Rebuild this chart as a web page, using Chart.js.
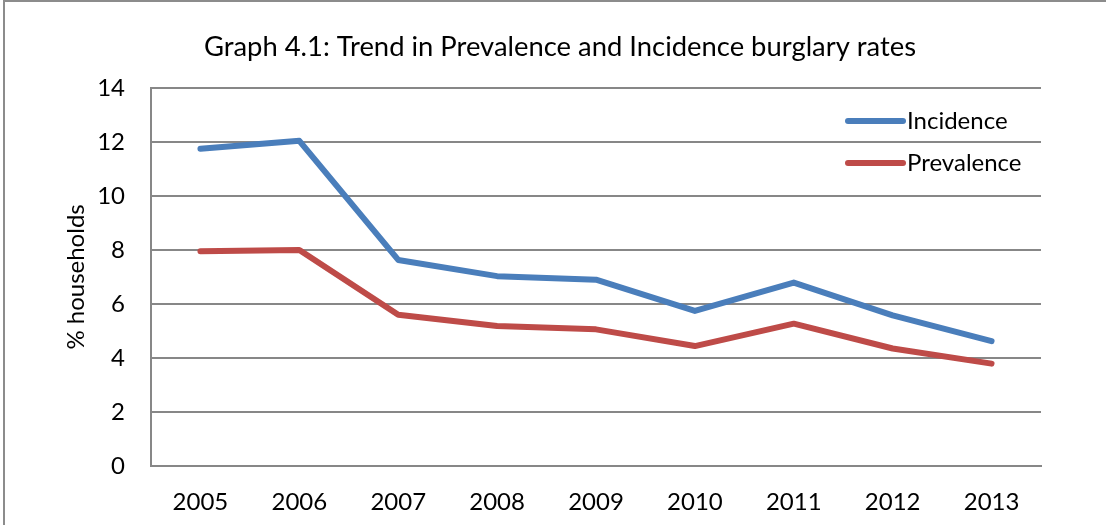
<!DOCTYPE html>
<html>
<head>
<meta charset="utf-8">
<script src="https://cdn.jsdelivr.net/npm/chart.js@4/dist/chart.umd.min.js"></script>
<style>
  body { margin: 0; background: #fff; }
  #wrap { position: relative; width: 1106px; height: 525px; }
  #frame { position: absolute; left: 3px; top: 0; width: 1103px; height: 525px;
           border-left: 2px solid #8c8c8c; border-top: 2px solid #8c8c8c; box-sizing: border-box; pointer-events: none; }
</style>
</head>
<body>
<div id="wrap">
  <canvas id="burglaryChart" width="1106" height="525"></canvas>
  <div id="frame"></div>
</div>
<script>
const years = ['2005', '2006', '2007', '2008', '2009', '2010', '2011', '2012', '2013'];
const incidence = [11.75, 12.04, 7.63, 7.03, 6.9, 5.74, 6.79, 5.58, 4.62];
const prevalence = [7.95, 8.0, 5.6, 5.18, 5.06, 4.44, 5.27, 4.35, 3.79];
const yTicks = [0, 2, 4, 6, 8, 10, 12, 14];

const FONT = 'Lato, "Open Sans", sans-serif';
const GRID = '#878787';

// legend in the top-right of the plot, line sample then label
const sideLegend = {
  id: 'sideLegend',
  afterDatasetsDraw(chart) {
    const c = chart.ctx;
    const area = chart.chartArea;
    c.save();
    c.font = '24px ' + FONT;
    c.textBaseline = 'middle';
    chart.data.datasets.forEach((ds, i) => {
      const y = area.top + 33 + i * 42;
      const x0 = area.right - 193;
      c.strokeStyle = ds.borderColor;
      c.lineWidth = 6;
      c.lineCap = 'round';
      c.beginPath();
      c.moveTo(x0, y);
      c.lineTo(x0 + 55, y);
      c.stroke();
      c.fillStyle = '#000';
      c.fillText(ds.label, x0 + 59, y);
    });
    c.restore();
  }
};

new Chart(document.getElementById('burglaryChart'), {
  type: 'line',
  data: {
    labels: years,
    datasets: [
      { label: 'Incidence', data: incidence, borderColor: '#4a7ebb' },
      { label: 'Prevalence', data: prevalence, borderColor: '#be4b48' }
    ]
  },
  options: {
    responsive: false,
    animation: false,
    layout: { padding: { left: 14, right: 0, top: 0, bottom: 0 } },
    elements: {
      line: { borderWidth: 6, tension: 0, borderCapStyle: 'round', borderJoinStyle: 'round' },
      point: { radius: 0 }
    },
    plugins: {
      legend: { display: false },
      tooltip: { enabled: false },
      title: {
        display: true,
        text: 'Graph 4.1: Trend in Prevalence and Incidence burglary rates',
        color: '#000',
        font: { family: FONT, size: 27.4, weight: 'normal' },
        padding: { top: 31, bottom: 24 }
      }
    },
    scales: {
      x: {
        offset: true,
        grid: { display: false, drawTicks: false },
        border: { display: true, color: GRID, width: 2 },
        ticks: { color: '#000', font: { family: FONT, size: 24 }, padding: 22, maxRotation: 0 },
        afterFit(scale) { scale.height = 59; }
      },
      y: {
        min: 0,
        max: 14,
        afterBuildTicks(scale) { scale.ticks = yTicks.map(v => ({ value: v })); },
        grid: { color: GRID, lineWidth: 2, drawTicks: false },
        border: { display: true, color: GRID, width: 2 },
        ticks: { color: '#000', font: { family: FONT, size: 24 }, padding: 26 },
        title: {
          display: true,
          text: '% households',
          color: '#000',
          font: { family: FONT, size: 24 },
          padding: { top: 48, bottom: 0 }
        },
        afterFit(scale) { scale.width = 137; }
      },
      // empty margin on the right of the plot
      spacer: {
        position: 'right',
        grid: { display: false, drawTicks: false },
        border: { display: false },
        ticks: { display: false },
        afterFit(scale) { scale.width = 65; }
      }
    }
  },
  plugins: [sideLegend]
});
</script>
</body>
</html>
